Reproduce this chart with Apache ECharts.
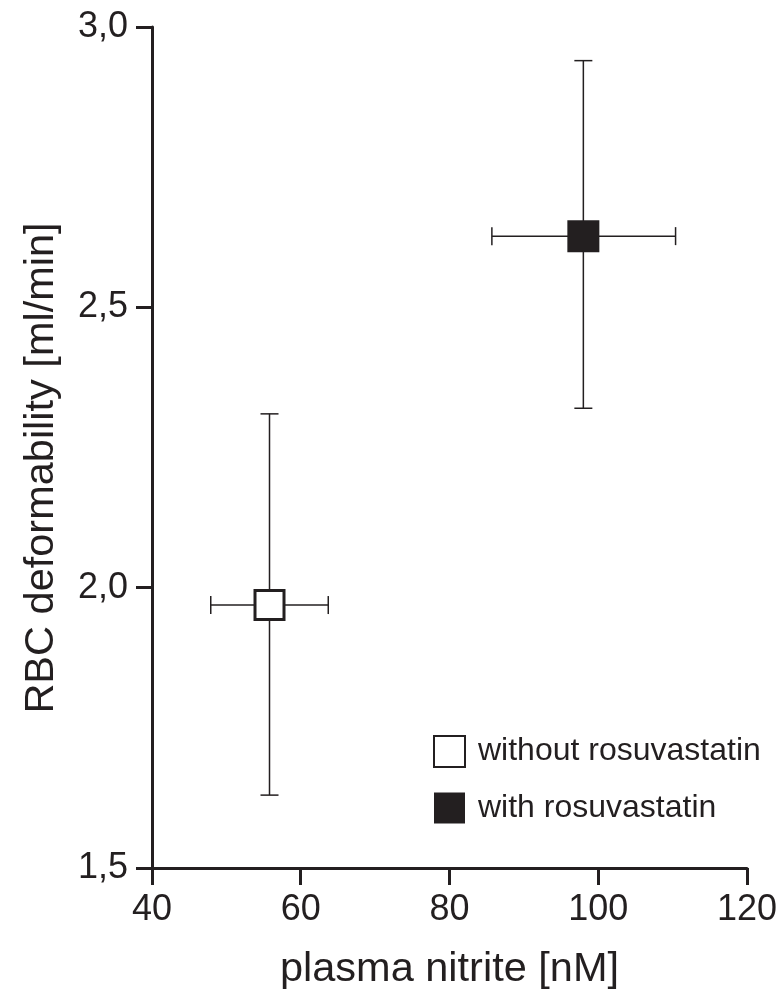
<!DOCTYPE html>
<html>
<head>
<meta charset="utf-8">
<script src="https://cdn.jsdelivr.net/npm/echarts@6/dist/echarts.min.js"></script>
<style>
html,body{margin:0;padding:0;background:#fff;}
#chart{width:780px;height:998px;}
</style>
</head>
<body>
<div id="chart"></div>
<script>
// ---- data ----
var seriesNames = ['without rosuvastatin', 'with rosuvastatin'];
var nitriteMean = [55.8, 98.0];          // plasma nitrite [nM]
var nitriteLow  = [47.9, 85.7];
var nitriteHigh = [63.7, 110.4];
var deformMean  = [1.969, 2.627];        // RBC deformability [ml/min]
var deformLow   = [1.630, 2.320];
var deformHigh  = [2.310, 2.940];
var xTicks = [40, 60, 80, 100, 120];
var yTicks = [1.5, 2.0, 2.5, 3.0];

var ink = '#231f20';
var fontFam = '"Liberation Sans", Arial, Helvetica, sans-serif';

var chart = echarts.init(document.getElementById('chart'), null, {renderer: 'canvas'});

var errData = nitriteMean.map(function (x, i) {
  return [x, deformMean[i], nitriteLow[i], nitriteHigh[i], deformLow[i], deformHigh[i]];
});

function renderErr(params, api) {
  var c = api.coord([api.value(0), api.value(1)]);
  var xl = api.coord([api.value(2), api.value(1)]);
  var xh = api.coord([api.value(3), api.value(1)]);
  var yl = api.coord([api.value(0), api.value(4)]);
  var yh = api.coord([api.value(0), api.value(5)]);
  var cap = 9;
  var st = {stroke: ink, lineWidth: 1.5};
  function ln(x1, y1, x2, y2) {
    return {type: 'line', shape: {x1: x1, y1: y1, x2: x2, y2: y2}, style: st};
  }
  return {
    type: 'group',
    children: [
      ln(xl[0], c[1], xh[0], c[1]),
      ln(c[0], yl[1], c[0], yh[1]),
      ln(xl[0], c[1] - cap, xl[0], c[1] + cap),
      ln(xh[0], c[1] - cap, xh[0], c[1] + cap),
      ln(c[0] - cap, yl[1], c[0] + cap, yl[1]),
      ln(c[0] - cap, yh[1], c[0] + cap, yh[1])
    ]
  };
}

var option = {
  backgroundColor: '#ffffff',
  animation: false,
  grid: {left: 152, right: 28, top: 27, bottom: 130, containLabel: false},
  xAxis: {
    type: 'value',
    min: xTicks[0], max: xTicks[xTicks.length - 1], interval: 20,
    splitLine: {show: false},
    axisLine: {show: true, lineStyle: {color: ink, width: 3}},
    axisTick: {show: true, length: 17, lineStyle: {color: ink, width: 3}},
    axisLabel: {color: ink, fontSize: 36, fontFamily: fontFam, margin: 24},
    name: 'plasma nitrite [nM]',
    nameLocation: 'middle',
    nameGap: 81,
    nameTextStyle: {color: ink, fontSize: 41.5, fontFamily: fontFam}
  },
  yAxis: {
    type: 'value',
    min: yTicks[0], max: yTicks[yTicks.length - 1], interval: 0.5,
    splitLine: {show: false},
    axisLine: {show: true, lineStyle: {color: ink, width: 3}},
    axisTick: {show: true, length: 16, lineStyle: {color: ink, width: 3}},
    axisLabel: {
      color: ink, fontSize: 36, fontFamily: fontFam, margin: 24,
      formatter: function (v) { return v.toFixed(1).replace('.', ','); }
    }
  },
  legend: {
    orient: 'vertical',
    left: 433, top: 735,
    padding: 0,
    itemWidth: 31, itemHeight: 31,
    itemGap: 24,
    textStyle: {color: ink, fontSize: 32, fontFamily: fontFam, padding: [0, 0, 0, 8]},
    data: [
      {name: seriesNames[0], icon: 'rect', itemStyle: {color: '#fff', borderColor: ink, borderWidth: 2}},
      {name: seriesNames[1], icon: 'rect', itemStyle: {color: ink, borderColor: ink, borderWidth: 0}}
    ]
  },
  graphic: [{
    type: 'text',
    x: 42, y: 468,
    rotation: Math.PI / 2,
    style: {
      text: 'RBC deformability [ml/min]',
      fill: ink,
      font: '41.5px ' + fontFam,
      textAlign: 'center',
      textVerticalAlign: 'middle'
    }
  }],
  series: [
    {
      type: 'custom',
      name: 'errors',
      renderItem: renderErr,
      data: errData,
      encode: {x: [0, 2, 3], y: [1, 4, 5]},
      z: 1,
      silent: true
    },
    {
      type: 'scatter',
      name: seriesNames[0],
      symbol: 'rect',
      symbolSize: 29,
      data: [[nitriteMean[0], deformMean[0]]],
      itemStyle: {color: '#ffffff', borderColor: ink, borderWidth: 3, opacity: 1},
      z: 5
    },
    {
      type: 'scatter',
      name: seriesNames[1],
      symbol: 'rect',
      symbolSize: 32,
      data: [[nitriteMean[1], deformMean[1]]],
      itemStyle: {color: ink, opacity: 1},
      z: 5
    }
  ]
};
chart.setOption(option);
</script>
</body>
</html>
